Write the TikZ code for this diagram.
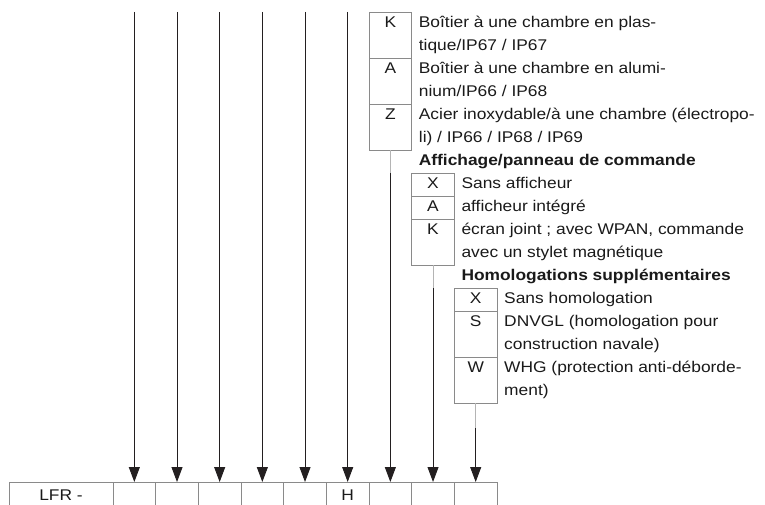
\documentclass[tikz,border=0pt]{standalone}
\usepackage{fontspec}
\setmainfont{Liberation Sans}[FakeStretch=1.12]
\usepackage{tikz}
\usepackage{xcolor}
\usetikzlibrary{arrows.meta, positioning}
\definecolor{FigInk}{HTML}{1A1A1A}
\definecolor{FeedInk}{HTML}{231F20}
\definecolor{BoxLine}{HTML}{8A8A8A}
\definecolor{LinkGray}{HTML}{B4B4B4}

\begin{document}
\begin{tikzpicture}[
    x=1pt, y=-1pt,
    font=\fontsize{15.5}{23}\selectfont,
    text=FigInk,
    codebox/.style={
      draw=BoxLine,
      line width=0.8pt,
      minimum width=42.67pt,
      inner sep=0pt,
      outer sep=0pt,
    },
    rowtag/.style={
      anchor=north,
      inner sep=0pt,
      yshift=1pt,
    },
    desc/.style={
      anchor=north west,
      align=left,
      inner xsep=7pt,
      inner ysep=0pt,
      yshift=1pt,
    },
    heading/.style={
      desc,
      font=\fontsize{15.5}{23}\selectfont\bfseries,
    },
    feed/.style={
      draw=FeedInk,
      line width=0.9pt,
      -{Triangle[width=11pt,length=15pt]},
    },
    link/.style={
      draw=LinkGray,
      line width=0.9pt,
    },
  ]
    \useasboundingbox (0,0) rectangle (765,505);
    \coordinate (top) at (0,12);

    \node[codebox, minimum width=104pt, minimum height=30pt, anchor=north west,
      label={[rowtag, yshift=-3pt]north:\strut LFR -}] (c0) at (9,482) {};
    \foreach \i/\t in {1/,2/,3/,4/,5/,6/H,7/,8/,9/} {
      \pgfmathtruncatemacro\j{\i-1}
      \node[codebox, minimum height=30pt, right=0pt of c\j,
        label={[rowtag, yshift=-3pt]north:\strut\t}] (c\i) {};
    }

    \node[codebox, minimum height=46pt, anchor=north west,
      label={[rowtag]north:\strut K}] (k1) at (c7.west |- top) {};
    \node[codebox, minimum height=46pt, below=0pt of k1,
      label={[rowtag]north:\strut A}] (a1) {};
    \node[codebox, minimum height=46pt, below=0pt of a1,
      label={[rowtag]north:\strut Z}] (z1) {};
    \node[desc] (dk1) at (k1.north east) {\strut Boîtier à une chambre en plas-\\tique/IP67 / IP67};
    \node[desc] (da1) at (a1.north east) {\strut Boîtier à une chambre en alumi-\\nium/IP66 / IP68};
    \node[desc] (dz1) at (z1.north east) {\strut Acier inoxydable/à une chambre (électropo-\\li) / IP66 / IP68 / IP69};

    \node[heading] (hdisp) at (z1.south east) {\strut Affichage/panneau de commande};
    \node[codebox, minimum height=23pt, anchor=north west,
      label={[rowtag]north:\strut X}] (x2) at ([yshift=-23pt]z1.south east) {};
    \node[codebox, minimum height=23pt, below=0pt of x2,
      label={[rowtag]north:\strut A}] (a2) {};
    \node[codebox, minimum height=46pt, below=0pt of a2,
      label={[rowtag]north:\strut K}] (k2) {};
    \node[desc] (dx2) at (x2.north east) {\strut Sans afficheur};
    \node[desc] (da2) at (a2.north east) {\strut afficheur intégré};
    \node[desc] (dk2) at (k2.north east) {\strut écran joint ; avec WPAN, commande\\avec un stylet magnétique};

    \node[heading] (happr) at (k2.south east) {\strut Homologations supplémentaires};
    \node[codebox, minimum height=23pt, anchor=north west,
      label={[rowtag]north:\strut X}] (x3) at ([yshift=-23pt]k2.south east) {};
    \node[codebox, minimum height=46pt, below=0pt of x3,
      label={[rowtag]north:\strut S}] (s3) {};
    \node[codebox, minimum height=46pt, below=0pt of s3,
      label={[rowtag]north:\strut W}] (w3) {};
    \node[desc] (dx3) at (x3.north east) {\strut Sans homologation};
    \node[desc] (ds3) at (s3.north east) {\strut DNVGL (homologation pour\\construction navale)};
    \node[desc] (dw3) at (w3.north east) {\strut WHG (protection anti-déborde-\\ment)};

    \coordinate (s7) at (c7 |- x2.north);
    \coordinate (s8) at (c8 |- x3.north);
    \coordinate (s9) at ([yshift=-25pt]w3.south);

    \foreach \i in {1,...,6}
      \draw[feed] (c\i |- top) -- (c\i.north);
    \draw[link] (z1.south) -- (s7);
    \draw[link] (k2.south) -- (s8);
    \draw[link] (w3.south) -- (s9);
    \draw[feed] (s7) -- (c7.north);
    \draw[feed] (s8) -- (c8.north);
    \draw[feed] (s9) -- (c9.north);
  \end{tikzpicture}
\end{document}
